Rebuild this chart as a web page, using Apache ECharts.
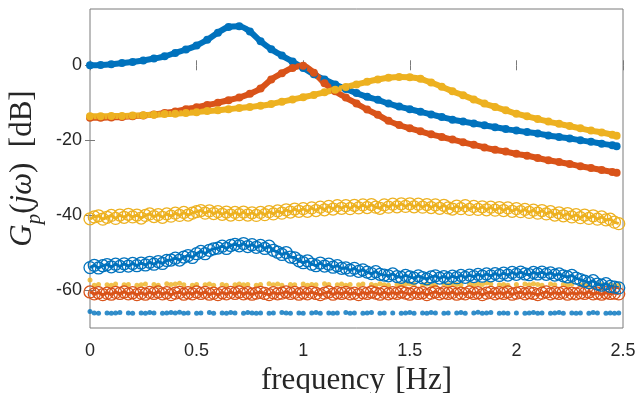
<!DOCTYPE html>
<html>
<head>
<meta charset="utf-8">
<script src="https://cdn.jsdelivr.net/npm/echarts@6/dist/echarts.min.js"></script>
<style>
  html, body { margin: 0; padding: 0; background: #fff; }
  #chart { width: 644px; height: 393px; }
</style>
</head>
<body>
<div id="chart"></div>
<script>
// Colours (MATLAB default order)
const cBlue = '#0072BD';
const cRed = '#D95319';
const cYellow = '#EDB120';

// Frequency grid of the three plant magnitude curves [Hz]
const freqCurve = [0, 0.05, 0.10, 0.15, 0.20, 0.25, 0.30, 0.35, 0.40, 0.45,
  0.50, 0.55, 0.60, 0.65, 0.70, 0.75, 0.80, 0.85, 0.90, 0.95,
  1.00, 1.05, 1.10, 1.15, 1.20, 1.25, 1.30, 1.35, 1.40, 1.45,
  1.50, 1.55, 1.60, 1.65, 1.70, 1.75, 1.80, 1.85, 1.90, 1.95,
  2.00, 2.05, 2.10, 2.15, 2.20, 2.25, 2.30, 2.35, 2.40, 2.45, 2.47];

// Plant magnitudes [dB]
const gainBlue = [0.0, 0.1, 0.3, 0.6, 0.9, 1.3, 1.8, 2.4, 3.3, 4.2,
  5.3, 6.8, 8.7, 10.2, 10.4, 9.0, 6.4, 4.3, 2.6, 1.0,
  -0.7, -2.4, -3.8, -5.1, -6.3, -7.4, -8.4, -9.2, -10.2, -11.0,
  -11.7, -12.4, -13.1, -13.8, -14.5, -15.0, -15.5, -16.0, -16.5, -17.0,
  -17.4, -17.8, -18.2, -18.7, -19.1, -19.5, -20.0, -20.4, -20.9, -21.3, -21.6];
const gainRed = [-14.0, -14.0, -13.9, -13.8, -13.6, -13.4, -13.1, -12.7, -12.3, -11.7,
  -11.2, -10.6, -10.0, -9.3, -8.6, -7.6, -6.2, -3.8, -2.1, -0.7,
  -0.1, -2.0, -4.8, -6.9, -8.6, -10.2, -11.8, -13.2, -14.8, -15.9,
  -16.8, -17.6, -18.4, -19.1, -19.8, -20.5, -21.2, -21.9, -22.5, -23.0,
  -23.6, -24.1, -24.7, -25.3, -25.8, -26.3, -26.9, -27.4, -27.9, -28.4, -28.6];
const gainYellow = [-13.6, -13.6, -13.5, -13.5, -13.4, -13.3, -13.2, -13.0, -12.9, -12.7,
  -12.5, -12.2, -12.0, -11.7, -11.4, -11.1, -10.8, -10.3, -9.7, -9.1,
  -8.5, -7.9, -7.2, -6.5, -5.8, -5.1, -4.4, -3.8, -3.3, -3.1,
  -3.2, -3.6, -4.6, -5.7, -6.9, -8.0, -9.1, -10.2, -11.1, -12.0,
  -12.9, -13.6, -14.3, -15.0, -15.6, -16.2, -16.8, -17.4, -17.9, -18.5, -18.8];

// Measured spectra on a 0.02 Hz grid from 0 to 2.48 Hz [dB]
const measStep = 0.02;
const measYellow = [
  -40.9, -40.4, -40.1, -41.0, -40.5, -40.0, -40.8, -39.9, -40.5, -39.7,
  -40.4, -39.9, -40.7, -40.0, -39.6, -40.3, -39.8, -40.5, -39.6, -40.2,
  -39.4, -40.0, -39.2, -39.9, -39.4, -39.0, -38.7, -39.4, -38.8, -39.5,
  -39.0, -39.7, -39.1, -39.9, -39.2, -39.8, -39.1, -39.9, -39.3, -40.0,
  -39.2, -39.8, -39.0, -39.6, -38.8, -39.4, -38.5, -39.1, -38.3, -38.9,
  -38.2, -38.9, -38.0, -38.7, -37.8, -38.5, -37.6, -38.3, -37.4, -38.1,
  -37.4, -38.2, -37.3, -38.0, -37.2, -37.9, -37.1, -37.8, -38.1, -37.2,
  -37.8, -37.0, -37.7, -36.9, -37.6, -36.9, -37.7, -37.0, -37.8, -37.1,
  -37.9, -37.2, -38.1, -37.3, -38.0, -38.3, -37.5, -38.2, -37.4, -38.4,
  -37.6, -38.4, -37.7, -38.5, -37.8, -38.6, -37.9, -38.7, -38.0, -38.9,
  -38.2, -39.0, -38.4, -39.2, -38.6, -39.4, -38.7, -39.6, -39.0, -39.9,
  -39.3, -40.1, -39.5, -40.4, -39.8, -40.6, -39.9, -40.8, -40.1, -41.0,
  -40.4, -41.2, -41.0, -41.8, -42.2];
const measBlue = [
  -53.9, -53.3, -54.0, -53.4, -53.1, -53.7, -53.0, -53.6, -52.9, -53.5,
  -52.8, -53.4, -52.7, -53.2, -52.5, -53.0, -52.3, -52.8, -52.0, -51.9,
  -51.4, -51.9, -51.1, -50.7, -51.2, -50.2, -49.6, -50.2, -49.3, -48.9,
  -48.7, -48.2, -48.8, -48.0, -47.7, -48.1, -47.5, -48.3, -47.8, -48.5,
  -48.0, -48.8, -48.2, -49.3, -49.8, -50.4, -49.9, -51.1, -51.3, -52.1,
  -52.6, -52.1, -53.0, -53.4, -52.7, -53.5, -53.0, -53.8, -53.4, -54.1,
  -54.0, -54.6, -54.1, -54.9, -54.5, -55.1, -55.5, -55.0, -55.7, -55.9,
  -56.1, -55.6, -56.3, -56.5, -56.0, -56.4, -56.7, -56.1, -56.6, -56.9,
  -56.4, -56.1, -56.7, -56.3, -56.8, -56.2, -56.6, -56.0, -56.5, -55.9,
  -56.3, -55.7, -56.2, -55.6, -56.1, -55.5, -56.0, -55.4, -55.9, -55.2,
  -55.7, -55.1, -55.6, -55.8, -55.2, -55.6, -55.1, -55.7, -55.3, -55.9,
  -55.6, -56.1, -56.4, -56.0, -56.7, -57.1, -57.5, -57.9, -57.4, -58.3,
  -58.6, -58.2, -58.9, -59.1, -59.3];
const measRed = [
  -60.4, -60.9, -60.6, -61.1, -60.7, -61.0, -60.5, -60.8, -60.4, -60.9,
  -60.6, -61.1, -60.7, -61.0, -60.5, -60.8, -60.4, -60.9, -60.6, -61.1,
  -60.7, -60.5, -61.0, -60.6, -60.9, -60.4, -60.8, -60.5, -61.0, -60.7,
  -61.1, -60.6, -60.9, -60.5, -60.8, -60.4, -60.9, -60.6, -61.0, -60.7,
  -60.5, -60.8, -61.1, -60.6, -60.9, -60.7, -60.4, -60.8, -60.5, -61.0,
  -60.6, -60.9, -60.5, -60.8, -61.1, -60.7, -60.4, -61.0, -60.6, -60.8,
  -60.5, -60.9, -60.7, -61.1, -60.6, -60.8, -60.4, -60.7, -61.0, -60.5,
  -60.9, -60.6, -60.8, -60.4, -60.7, -61.0, -60.5, -60.8, -60.6, -61.1,
  -60.7, -60.4, -60.9, -60.6, -60.8, -60.5, -61.0, -60.7, -60.9, -60.4,
  -60.8, -60.6, -61.1, -60.7, -60.5, -60.9, -60.6, -60.8, -60.4, -61.0,
  -60.7, -60.5, -60.9, -60.6, -60.8, -61.1, -60.7, -60.4, -60.9, -60.6,
  -60.8, -60.5, -61.0, -60.7, -60.9, -60.6, -60.8, -60.4, -60.9, -60.7,
  -61.0, -60.6, -60.8, -60.7, -60.9];
// Noise floors (null = sample not shown)
const floorYellow = [
  -57.2, -58.6, -58.4, null, -58.5, -58.6, -58.3, null, -58.5, -58.4,
  null, -58.6, -58.5, -58.3, null, -58.4, -58.6, null, -58.2, -58.4,
  -58.3, -58.1, -58.5, null, -58.6, -58.4, null, -58.5, -58.3, -58.6,
  null, -58.4, -58.6, null, -58.5, -58.3, -58.5, -58.4, null, -58.6,
  -58.4, null, -58.2, -58.5, -58.3, -58.6, null, -58.4, -58.5, null,
  -58.3, -58.6, -58.4, -58.5, null, -58.2, -58.4, null, -58.5, -58.3,
  -58.6, -58.4, null, -58.5, -58.3, null, -58.4, -58.6, -58.2, -58.5,
  -58.6, null, -58.4, -58.5, -58.3, -58.2, -58.4, null, -58.5, -58.3,
  -58.4, -58.6, null, -58.3, -58.5, -58.2, -58.4, -58.5, null, -58.3,
  -58.5, -58.2, -58.4, -58.0, -58.3, null, -58.5, -58.4, -58.6, null,
  -58.4, null, -58.3, -58.5, -58.2, -58.4, -58.6, null, -58.3, -58.5,
  null, -58.4, -58.6, -58.3, null, -58.5, -58.4, -58.6, null, -58.3,
  -58.5, null, -58.4, -58.6, -58.5];
const floorBlue = [
  -65.6, -66.0, -66.1, null, -66.0, -66.1, -66.0, -65.9, null, -66.0,
  -66.1, null, -66.0, -66.1, -65.9, -66.0, null, -66.1, -66.0, -65.9,
  -66.0, -65.8, -66.1, -66.0, null, -66.1, -66.0, null, -65.9, -66.1,
  null, -66.0, -66.1, -65.9, -66.0, null, -66.1, -65.9, -66.0, -66.1,
  -66.0, null, -66.1, -66.0, null, -65.9, -66.0, -66.1, null, -66.0,
  -66.1, null, -66.0, -65.9, -66.1, null, -66.0, -66.1, -66.0, null,
  -65.9, -66.1, -66.0, null, -66.1, -66.0, -65.9, null, -66.1, -66.0,
  null, -66.0, null, -66.1, -66.0, -65.9, -66.1, null, -66.0, -66.1,
  -65.9, -66.0, null, -66.1, -66.0, null, -66.0, -65.9, -66.1, null,
  -66.0, -65.8, -66.1, -66.0, -65.9, null, -66.1, -66.0, -66.1, null,
  -66.0, null, -66.1, -66.0, -65.9, -66.1, -66.0, null, -66.1, -66.0,
  -65.9, -66.1, null, -66.0, -66.1, -66.0, null, -66.1, -65.9, -66.0,
  null, -66.1, -66.0, -66.1, -66.0];

// Axis ticks
const xTicks = [0, 0.5, 1, 1.5, 2, 2.5];
const yTicks = [-60, -40, -20, 0];
const xRange = [0, 2.5];
const yRange = [-70, 15];

function pairsFromGrid(freqs, values) {
  return values.map((v, i) => [freqs[i], v]);
}
function pairsFromStep(values) {
  const out = [];
  values.forEach((v, i) => {
    if (v !== null) out.push([+(i * measStep).toFixed(2), v]);
  });
  return out;
}

const axisGray = '#7a7a7a';
const labelColor = '#262626';
const tickFont = { fontFamily: 'Liberation Sans, Arial, sans-serif', fontSize: 18, color: labelColor };
const serif = 'Liberation Serif, Times New Roman, serif';

function circleSeries(values, color) {
  return {
    type: 'line',
    data: pairsFromStep(values),
    symbol: 'circle',
    symbolSize: 12,
    showSymbol: true,
    showAllSymbol: true,
    lineStyle: { color: color, width: 3 },
    itemStyle: { color: 'rgba(0,0,0,0)', borderColor: color, borderWidth: 1.3 },
    emphasis: { disabled: true },
    animation: false
  };
}
function floorSeries(values, color) {
  return {
    type: 'scatter',
    data: pairsFromStep(values),
    symbol: 'circle',
    symbolSize: 5,
    itemStyle: { color: color },
    emphasis: { disabled: true },
    animation: false
  };
}
function curveSeries(values, color) {
  return {
    type: 'line',
    data: pairsFromGrid(freqCurve, values),
    smooth: 0.3,
    symbol: 'circle',
    symbolSize: 8,
    showSymbol: true,
    showAllSymbol: true,
    lineStyle: { color: color, width: 6 },
    itemStyle: { color: color, borderWidth: 0 },
    emphasis: { disabled: true },
    animation: false
  };
}

const chart = echarts.init(document.getElementById('chart'), null, { renderer: 'canvas' });
chart.setOption({
  animation: false,
  backgroundColor: '#ffffff',
  grid: {
    left: 90, top: 9, width: 533, height: 319,
    containLabel: false,
    outerBoundsMode: 'none',
    show: true, borderColor: axisGray, borderWidth: 1, backgroundColor: 'transparent'
  },
  xAxis: [{
    type: 'value', min: xRange[0], max: xRange[1], position: 'bottom',
    axisLine: { show: false },
    splitLine: { show: false },
    axisTick: { show: true, inside: true, length: 5, lineStyle: { color: axisGray }, customValues: xTicks },
    axisLabel: Object.assign({ margin: 14, customValues: xTicks }, tickFont),
    name: 'frequency\u2004[Hz]',
    nameLocation: 'middle',
    nameGap: 37,
    nameTextStyle: { fontFamily: serif, fontSize: 31, color: labelColor }
  }, {
    type: 'value', min: xRange[0], max: xRange[1], position: 'top',
    axisLine: { show: false }, splitLine: { show: false },
    axisTick: { show: true, inside: true, length: 5, lineStyle: { color: axisGray }, customValues: xTicks },
    axisLabel: { show: false }
  }],
  yAxis: [{
    type: 'value', min: yRange[0], max: yRange[1], position: 'left',
    axisLine: { show: false },
    splitLine: { show: false },
    axisTick: { show: true, inside: true, length: 5, lineStyle: { color: axisGray }, customValues: yTicks },
    axisLabel: Object.assign({ margin: 8, customValues: yTicks }, tickFont),
    name: '{it|G}{sub|p}{rm|(}{it|jω}{rm|)\u2002[dB]}',
    nameLocation: 'middle',
    nameRotate: 90,
    nameGap: 42,
    nameTextStyle: {
      fontFamily: serif, fontSize: 30, color: labelColor,
      rich: {
        it: { fontFamily: serif, fontStyle: 'italic', fontSize: 31, color: labelColor, lineHeight: 34 },
        sub: { fontFamily: serif, fontStyle: 'italic', fontSize: 21, color: labelColor, lineHeight: 44, verticalAlign: 'bottom' },
        rm: { fontFamily: serif, fontSize: 31, color: labelColor, lineHeight: 34 }
      }
    }
  }, {
    type: 'value', min: yRange[0], max: yRange[1], position: 'right',
    axisLine: { show: false }, splitLine: { show: false },
    axisTick: { show: true, inside: true, length: 5, lineStyle: { color: axisGray }, customValues: yTicks },
    axisLabel: { show: false }
  }],
  series: [
    floorSeries(floorBlue, cBlue),
    circleSeries(measRed, cRed),
    floorSeries(floorYellow, cYellow),
    circleSeries(measBlue, cBlue),
    circleSeries(measYellow, cYellow),
    curveSeries(gainBlue, cBlue),
    curveSeries(gainRed, cRed),
    curveSeries(gainYellow, cYellow)
  ]
});
</script>
</body>
</html>
